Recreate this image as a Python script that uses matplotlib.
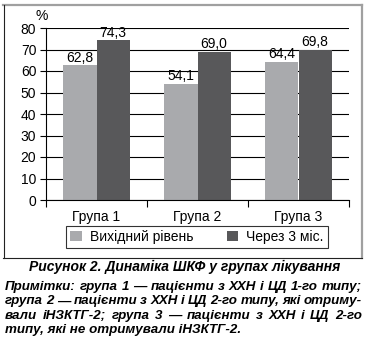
import matplotlib.pyplot as plt
import numpy as np
from matplotlib.lines import Line2D

plt.rcParams['font.family'] = ['Liberation Sans', 'DejaVu Sans']

# --- дані ---
groups = ['Група 1', 'Група 2', 'Група 3']
baseline = [62.8, 54.1, 64.4]
after_3m = [74.3, 69.0, 69.8]
series_names = ['Вихідний рівень', 'Через 3 міс.']
yticks = [0, 10, 20, 30, 40, 50, 60, 70, 80]

caption = 'Рисунок 2. Динаміка ШКФ у групах лікування'
notes = [
    'Примітки: група 1 — пацієнти з ХХН і ЦД 1-го типу;',
    'група 2 — пацієнти з ХХН і ЦД 2-го типу, які отриму-',
    'вали іНЗКТГ-2; група 3 — пацієнти з ХХН і ЦД 2-го',
    'типу, які не отримували іНЗКТГ-2.',
]

light = '#a9aaad'
dark = '#58585a'
fs = 10

fig = plt.figure(figsize=(3.71, 3.45), dpi=100)
W, H = 371, 345

# рамка навколо діаграми
fig.add_artist(Line2D([3 / W, 362 / W], [1 - 4.5 / H, 1 - 4.5 / H], color='#a0a0a0', lw=1.6))
fig.add_artist(Line2D([362 / W, 362 / W], [1 - 4.5 / H, 1 - 258 / H], color='#a0a0a0', lw=1.6))
fig.add_artist(Line2D([3.5 / W, 3.5 / W], [1 - 4.5 / H, 1 - 258 / H], color='#222222', lw=0.8))
fig.add_artist(Line2D([3 / W, 362 / W], [1 - 258 / H, 1 - 258 / H], color='#222222', lw=0.8))

ax = fig.add_axes([46 / W, 1 - 200 / H, 303 / W, 172 / H])

x = np.arange(len(groups))
bw = 0.33
b1 = ax.bar(x - bw / 2, baseline, bw, color=light, zorder=2, label=series_names[0])
b2 = ax.bar(x + bw / 2, after_3m, bw, color=dark, zorder=2, label=series_names[1])

for bars, vals in ((b1, baseline), (b2, after_3m)):
    for rect, v in zip(bars, vals):
        ax.text(rect.get_x() + rect.get_width() / 2, v + 0.2, f'{v:.1f}'.replace('.', ','),
                ha='center', va='bottom', fontsize=fs, zorder=3)

ax.set_xlim(-0.5, 2.5)
ax.set_ylim(0, 80)
ax.set_yticks(yticks)
ax.yaxis.grid(True, color='black', lw=0.8, zorder=0)
ax.set_axisbelow(True)

# підписи груп без рисок, риски на межах груп
ax.set_xticks([-0.5, 0.5, 1.5, 2.5])
ax.set_xticklabels([])
ax.set_xticks(x, minor=True)
ax.set_xticklabels(groups, minor=True, fontsize=fs)
ax.tick_params(axis='x', which='major', length=5, width=0.8, direction='out')
ax.tick_params(axis='x', which='minor', length=0, pad=7)
ax.tick_params(axis='y', length=4, width=0.8, labelsize=fs, pad=3)

for s in ('top', 'right'):
    ax.spines[s].set_visible(False)
ax.spines['left'].set_linewidth(0.8)
ax.spines['bottom'].set_linewidth(0.8)

fig.text(42 / W, 1 - 16 / H, '%', fontsize=fs, ha='center', va='center')

leg = fig.legend(loc='center', bbox_to_anchor=(197 / W, 1 - 237 / H), ncol=2, fontsize=fs,
                 frameon=True, fancybox=False, edgecolor='black', handlelength=0.8,
                 handleheight=0.8, handletextpad=0.6, columnspacing=2.4,
                 borderpad=0.3)
leg.get_frame().set_linewidth(0.8)

fig.text(185 / W, 1 - 267 / H, caption, fontsize=10, fontweight='bold', style='italic',
         ha='center', va='center')

# примітки вирівняні по ширині
renderer = fig.canvas.get_renderer()
left_px, right_px = 5, 362
note_fs = 9.6
for i, line in enumerate(notes):
    y = 1 - (287 + i * 14.4) / H
    words = line.split(' ')
    if i == len(notes) - 1:
        fig.text(left_px / W, y, line, fontsize=note_fs, fontweight='bold',
                 style='italic', ha='left', va='center')
        continue
    arts = [fig.text(0, y, w, fontsize=note_fs, fontweight='bold', style='italic',
                     ha='left', va='center') for w in words]
    widths = [a.get_window_extent(renderer).width for a in arts]
    gap = (right_px - left_px - sum(widths)) / (len(words) - 1)
    pos = left_px
    for a, w in zip(arts, widths):
        a.set_x(pos / W)
        pos += w + gap

fig.savefig('out.png', dpi=100)
